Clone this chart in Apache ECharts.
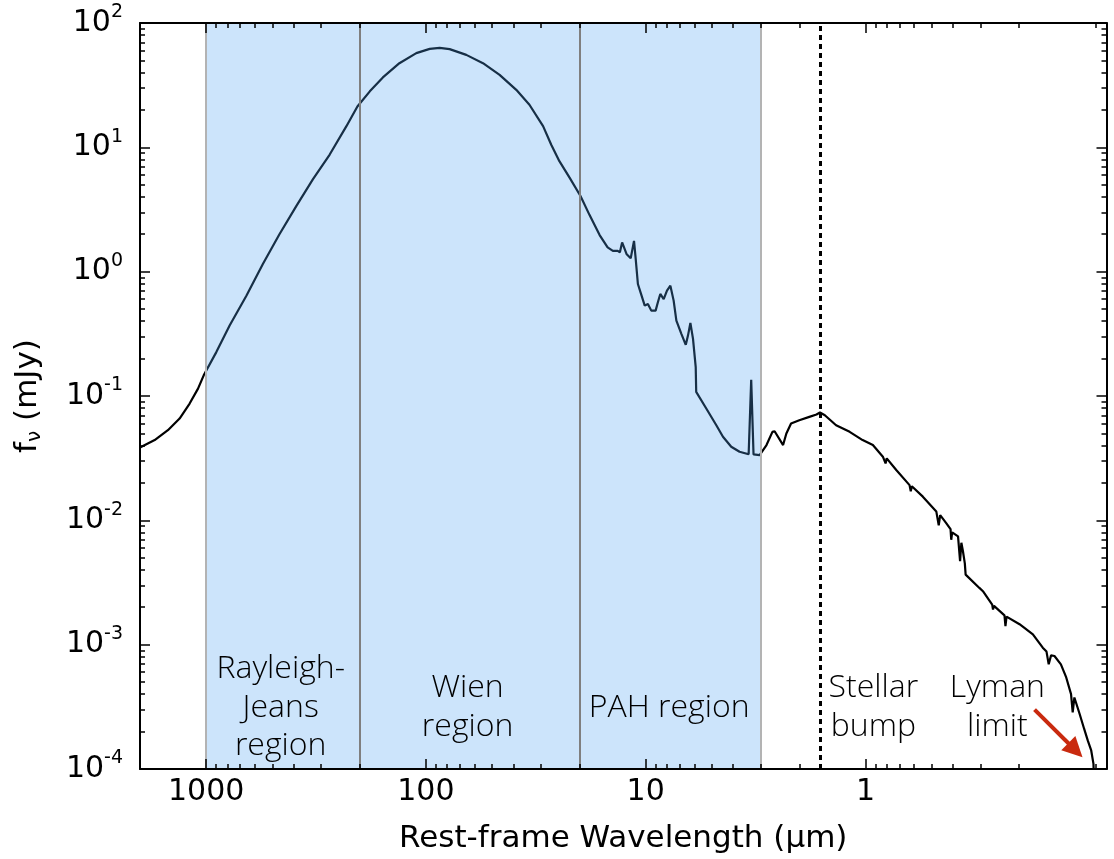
<!DOCTYPE html>
<html><head><meta charset="utf-8">
<script src="https://cdn.jsdelivr.net/npm/echarts@6/dist/echarts.min.js"></script>
<style>html,body{margin:0;padding:0;background:#fff}#c{width:1114px;height:859px}</style>
</head><body><div id="c"></div>
<script>
// Rest-frame wavelength (micron) and flux density (mJy)
const wavelengthUm = [2000,1715,1493,1321,1189,1089,1026,899,782,656,552,464,389,327,274,230,205,180,157,132,110.6,96.1,86.6,78.0,65.5,55.0,46.2,38.8,33.8,29.3,26.9,24.7,22.2,19.8,18.0,16.2,14.9,14.1,13.4,13.1,12.8,12.2,11.7,11.3,11.1,10.85,10.5,10.1,9.77,9.43,9.01,8.80,8.58,8.28,8.00,7.72,7.46,7.25,6.88,6.57,6.42,6.26,6.09,5.92,5.89,5.30,4.77,4.45,4.08,3.74,3.40,3.31,3.23,3.03,2.82,2.65,2.59,2.37,2.29,2.18,2.0,1.80,1.67,1.61,1.53,1.36,1.18,1.03,0.925,0.833,0.81,0.80,0.724,0.630,0.622,0.615,0.548,0.476,0.464,0.457,0.429,0.410,0.407,0.403,0.379,0.371,0.366,0.360,0.353,0.350,0.347,0.303,0.292,0.265,0.2627,0.260,0.233,0.2306,0.228,0.199,0.173,0.156,0.150,0.1466,0.143,0.138,0.129,0.122,0.116,0.114,0.112,0.106,0.101,0.0973,0.0939,0.0917,0.0912];
const fluxMJy = [0.0385,0.0442,0.0531,0.0659,0.0869,0.1146,0.1466,0.2254,0.369,0.641,1.151,2.0,3.37,5.52,8.75,14.8,21.3,28.2,36.5,47.5,57.2,61.9,63.1,61.6,55.4,47.5,38.3,29.0,22.0,14.8,10.5,7.74,5.70,4.06,2.85,1.97,1.567,1.47,1.47,1.43,1.72,1.38,1.28,1.77,1.26,0.796,0.662,0.533,0.550,0.486,0.486,0.568,0.662,0.602,0.703,0.771,0.585,0.404,0.316,0.258,0.306,0.387,0.288,0.171,0.108,0.0793,0.0582,0.0470,0.0391,0.0356,0.0340,0.135,0.0339,0.0335,0.0403,0.0515,0.0521,0.0403,0.0500,0.0601,0.0638,0.0679,0.0709,0.0736,0.0700,0.0582,0.0515,0.0442,0.0403,0.0325,0.0287,0.0315,0.0254,0.0192,0.0171,0.0188,0.0155,0.0118,0.0091,0.0110,0.0095,0.0085,0.00698,0.0080,0.00743,0.00469,0.0066,0.00564,0.0045,0.00366,0.00356,0.00286,0.00269,0.00210,0.00192,0.00205,0.00172,0.00141,0.00168,0.00146,0.00121,0.000946,0.00088,0.000695,0.00082,0.000811,0.000695,0.000545,0.000400,0.000285,0.000376,0.000277,0.000209,0.000169,0.000141,0.000110,0.00008];

// Shaded regions (micron) and annotations
const regionBounds = [[1000, 200], [200, 20], [20, 3]];
const regionNames = ['Rayleigh-\nJeans\nregion', 'Wien\nregion', 'PAH region'];
const stellarBumpUm = 1.6;
const lymanLimitUm = 0.0912;

// Axis ticks
const xMajorTicks = [1, 10, 100, 1000];
const xMinorTicks = [0.09,0.2,0.3,0.4,0.5,0.6,0.7,0.8,0.9,2,3,4,5,6,7,8,9,20,30,40,50,60,70,80,90,200,300,400,500,600,700,800,900];
const yMajorTicks = [0.0001, 0.001, 0.01, 0.1, 1, 10, 100];
const yMinorTicks = [0.0002,0.0003,0.0004,0.0005,0.0006,0.0007,0.0008,0.0009,0.002,0.003,0.004,0.005,0.006,0.007,0.008,0.009,0.02,0.03,0.04,0.05,0.06,0.07,0.08,0.09,0.2,0.3,0.4,0.5,0.6,0.7,0.8,0.9,2,3,4,5,6,7,8,9,20,30,40,50,60,70,80,90];

const X_MIN = 0.08, X_MAX = 2000, Y_MIN = 0.0001, Y_MAX = 100;
const NOTE_Y = 3.12e-4;
const TICK_FONT = {fontFamily: 'DejaVu Sans', fontSize: 30, color: '#000'};
const NOTE_FONT = {fontFamily: 'Open Sans', fontWeight: 300, fontSize: 32, lineHeight: 38.5, color: '#000'};

function xAxisDef(position, ticks, len, main) {
  return {
    type: 'log', logBase: 10, gridIndex: 0, position: position, inverse: true,
    min: X_MIN, max: X_MAX, z: 10,
    name: main && position === 'bottom' ? 'Rest-frame Wavelength (\u03bcm)' : '',
    nameLocation: 'middle', nameGap: 54,
    nameTextStyle: {fontFamily: 'DejaVu Sans', fontSize: 31, color: '#000'},
    axisLine: {show: main, onZero: false, lineStyle: {color: '#000', width: 2}},
    axisTick: {show: true, inside: true, length: len, customValues: ticks, lineStyle: {color: '#000', width: 1.5}},
    axisLabel: main && position === 'bottom'
      ? Object.assign({show: true, margin: 8, customValues: ticks, formatter: v => String(Math.round(v))}, TICK_FONT)
      : {show: false},
    splitLine: {show: false}, minorTick: {show: false}, minorSplitLine: {show: false}
  };
}
function yAxisDef(position, ticks, len, main) {
  return {
    type: 'log', logBase: 10, gridIndex: 0, position: position,
    min: Y_MIN, max: Y_MAX, z: 10,
    name: main && position === 'left' ? '{f|f}{s|\u03bd}{f| (mJy)}' : '',
    nameLocation: 'middle', nameGap: 95,
    nameTextStyle: {fontFamily: 'DejaVu Sans', fontSize: 31, color: '#000',
      rich: {f: {fontFamily: 'DejaVu Sans', fontSize: 31, color: '#000'},
             s: {fontFamily: 'DejaVu Sans', fontSize: 20, color: '#000', padding: [14, 0, 0, 0]}}},
    axisLine: {show: main, onZero: false, lineStyle: {color: '#000', width: 2}},
    axisTick: {show: true, inside: true, length: len, customValues: ticks, lineStyle: {color: '#000', width: 1.5}},
    axisLabel: main && position === 'left'
      ? {show: true, margin: 17, customValues: ticks,
         formatter: v => '{a|10}{b|' + Math.round(Math.log10(v)) + '}',
         rich: {a: {fontFamily: 'DejaVu Sans', fontSize: 30, color: '#000', lineHeight: 40},
                b: {fontFamily: 'DejaVu Sans', fontSize: 19, color: '#000', verticalAlign: 'top', lineHeight: 20}}}
      : {show: false},
    splitLine: {show: false}, minorTick: {show: false}, minorSplitLine: {show: false}
  };
}

const sedData = wavelengthUm.map((w, i) => [w, fluxMJy[i]]);

const edgeColors = {1000: '#b3b3b3', 200: '#7f7f7f', 20: '#7f7f7f', 3: '#b3b3b3'};
const edgeValues = [1000, 200, 20, 3];

const option = {
  animation: false,
  backgroundColor: '#fff',
  grid: {left: 140, right: 7.5, top: 23, bottom: 87.3, containLabel: false},
  xAxis: [
    xAxisDef('bottom', xMajorTicks, 10, true),
    xAxisDef('bottom', xMinorTicks, 5, false),
    xAxisDef('top', xMajorTicks, 10, true),
    xAxisDef('top', xMinorTicks, 5, false)
  ],
  yAxis: [
    yAxisDef('left', yMajorTicks, 10, true),
    yAxisDef('left', yMinorTicks, 5, false),
    yAxisDef('right', yMajorTicks, 10, true),
    yAxisDef('right', yMinorTicks, 5, false)
  ],
  series: [
    {
      name: 'SED', type: 'line', xAxisIndex: 0, yAxisIndex: 0, z: 2,
      data: sedData, showSymbol: false, symbol: 'none', clip: true,
      lineStyle: {color: '#000', width: 2.2},
      markLine: {
        silent: true, symbol: 'none', animation: false, z: 3,
        label: {show: false},
        lineStyle: {color: '#000', width: 3, type: [5, 4]},
        data: [{xAxis: stellarBumpUm}]
      }
    },
    {
      name: 'regions', type: 'line', xAxisIndex: 0, yAxisIndex: 0, z: 4, data: [],
      markArea: {
        silent: true, z: 5,
        itemStyle: {color: 'rgba(79,162,241,0.29)', borderWidth: 0},
        data: regionBounds.map(b => [{xAxis: b[0]}, {xAxis: b[1]}])
      },
      markLine: {
        silent: true, symbol: 'none', label: {show: false}, z: 6,
        data: edgeValues.map(v => ({xAxis: v, lineStyle: {color: edgeColors[v], width: 2, type: 'solid'}}))
      }
    },
    {
      name: 'notes', type: 'line', xAxisIndex: 0, yAxisIndex: 0, z: 7, data: [],
      markPoint: {
        silent: true, z: 8, symbol: 'circle', symbolSize: 1, itemStyle: {color: 'rgba(0,0,0,0)'},
        label: Object.assign({show: true, position: 'inside'}, NOTE_FONT),
        data: [
          {coord: [458, NOTE_Y], label: {formatter: regionNames[0]}},
          {coord: [64.6, NOTE_Y], label: {formatter: regionNames[1]}},
          {coord: [7.82, NOTE_Y], label: {formatter: regionNames[2]}},
          {coord: [0.92, NOTE_Y], label: {formatter: 'Stellar\nbump'}},
          {coord: [0.251, NOTE_Y], label: {formatter: 'Lyman\nlimit'}}
        ]
      },
      markLine: {
        silent: true, z: 8, symbol: ['none', 'triangle'], symbolSize: 20,
        label: {show: false},
        lineStyle: {color: '#c92a0f', width: 4, type: 'solid'},
        itemStyle: {color: '#c92a0f'},
        data: [[{coord: [0.170, 3.0e-4]}, {coord: [0.1108, 1.415e-4]}]]
      }
    }
  ]
};

const chart = echarts.init(document.getElementById('c'), null, {renderer: 'canvas'});
chart.setOption(option);
</script>
</body></html>
